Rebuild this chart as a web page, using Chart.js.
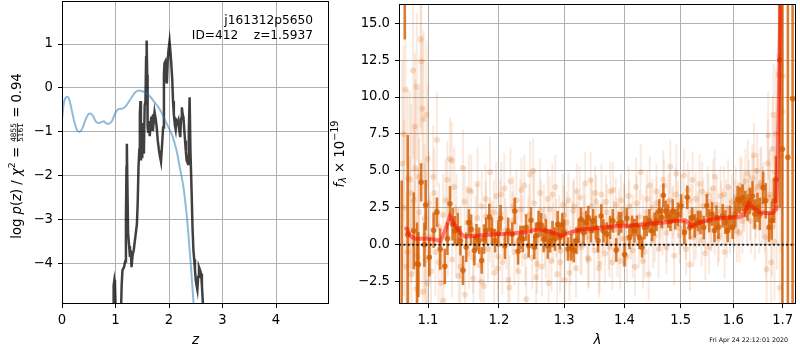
<!DOCTYPE html>
<html>
<head>
<meta charset="utf-8">
<script src="https://cdn.jsdelivr.net/npm/chart.js@4.4.0/dist/chart.umd.min.js"></script>
<style>
  body { margin: 0; background: #fff; }
  #wrap { position: relative; width: 800px; height: 350px; }
  canvas { position: absolute; top: 0; }
</style>
</head>
<body>
<div id="wrap">
  <canvas id="pz" width="334" height="350" style="left:0"></canvas>
  <canvas id="spec" width="480" height="350" style="left:320px"></canvas>
</div>
<script>
// ---- left panel: log p(z) ----
const pzZ = [0.93,0.955,0.965,0.978,0.99,1.002,1.02,1.06,1.10,1.115,1.13,1.16,1.18,1.195,1.205,1.212,1.22,1.235,1.255,1.27,
  1.285,1.30,1.32,1.34,1.36,1.38,1.40,1.415,1.43,1.445,1.455,1.466,1.475,1.49,1.50,1.515,1.53,1.545,1.56,1.572,
  1.582,1.592,1.60,1.61,1.625,1.64,1.655,1.67,1.685,1.70,1.715,1.73,1.75,1.77,1.79,1.81,1.83,1.85,1.87,1.89,
  1.905,1.915,1.93,1.945,1.96,1.975,1.99,2.01,2.025,2.04,2.06,2.075,2.09,2.11,2.125,2.14,2.16,2.175,2.19,2.21,
  2.225,2.24,2.255,2.27,2.285,2.30,2.315,2.33,2.355,2.37,2.385,2.40,2.42,2.44,2.456,2.47,2.485,2.50,2.515,2.53,
  2.545,2.56,2.58,2.60,2.615,2.63,2.65,2.68];
const logPz = [-6.0,-5.0,-4.5,-4.38,-4.5,-5.0,-5.6,-5.8,-5.2,-4.5,-4.15,-4.08,-3.95,-3.0,-1.8,-1.27,-2.0,-3.3,-3.6,-3.85,
  -3.7,-4.08,-3.8,-3.7,-3.5,-3.3,-3.1,-2.6,-1.8,-1.4,-0.6,-0.3,-1.65,-0.8,-1.6,-0.8,-1.5,-0.4,-0.3,0.7,
  1.08,0.3,-0.9,-1.0,-0.75,-1.1,-0.85,-0.65,-0.95,-0.6,-0.75,-0.55,-0.7,-0.9,-1.2,-1.4,-1.55,-1.68,-1.3,-0.9,
  0.3,0.56,0.6,0.2,0.1,0.6,0.85,1.06,0.85,0.6,0.2,-0.3,-0.6,-0.85,-0.95,-0.75,-0.8,-0.74,-0.95,-1.12,
  -0.7,-0.44,-0.6,-0.67,-0.95,-1.2,-1.45,-1.65,-1.73,-1.0,-0.21,-1.4,-2.26,-3.2,-3.7,-3.9,-4.15,-4.38,-4.5,-4.6,
  -4.3,-4.08,-4.15,-4.23,-4.5,-4.83,-5.4,-6.2];

const priorZ = [0.0,0.03,0.06,0.11,0.16,0.22,0.28,0.33,0.38,0.44,0.49,0.53,0.58,0.63,0.68,0.73,0.78,0.82,0.86,0.90,
  0.94,0.98,1.02,1.07,1.13,1.19,1.24,1.31,1.37,1.44,1.51,1.58,1.65,1.72,1.79,1.86,1.93,2.00,2.07,2.14,
  2.20,2.27,2.34,2.41,2.46,2.50];
const priorLogP = [-0.72,-0.38,-0.24,-0.2,-0.38,-0.72,-0.96,-1.0,-0.92,-0.72,-0.6,-0.58,-0.64,-0.76,-0.8,-0.78,-0.76,-0.8,-0.82,-0.8,
  -0.74,-0.62,-0.52,-0.48,-0.47,-0.42,-0.33,-0.2,-0.1,-0.06,-0.08,-0.12,-0.2,-0.31,-0.42,-0.56,-0.75,-0.92,-1.12,-1.42,
  -1.8,-2.26,-3.02,-4.08,-4.92,-5.6];

const pzXTicks = [0, 1, 2, 3, 4];
const pzYTicks = [-4, -3, -2, -1, 0, 1];
const pzRange = {xmin: 0, xmax: 4.99, ymin: -4.92, ymax: 1.98};

const objName = 'j161312p5650';
const objInfo = 'ID=412    z=1.5937';

// ---- right panel: spectrum ----
// individual exposures (faint)
const rawLam = [
  1.066,1.068,1.070,1.071,1.073,1.075,1.076,1.078,1.080,1.081,1.083,1.085,1.086,1.088,1.090,1.091,1.093,1.094,1.096,1.098,1.099,
  1.101,1.104,1.107,1.110,1.112,1.115,1.118,1.121,1.124,1.127,1.130,1.133,1.136,1.139,1.142,1.145,1.148,1.151,1.154,1.157,1.160,1.163,1.166,1.169,1.172,1.175,1.178,1.181,1.184,1.187,1.190,1.193,1.196,1.199,
  1.202,1.205,1.208,1.211,1.214,1.217,1.220,1.223,1.226,1.229,1.232,1.235,1.238,1.241,1.244,1.247,1.250,1.253,1.256,1.259,1.262,1.265,1.268,1.271,1.274,1.277,1.280,1.283,1.286,1.289,1.292,1.295,1.298,
  1.301,1.304,1.307,1.310,1.313,1.316,1.319,1.322,1.325,1.328,1.331,1.334,1.337,1.340,1.343,1.346,1.349,1.352,1.355,1.358,1.361,1.364,1.367,1.370,1.373,1.376,1.379,1.382,1.385,1.388,1.391,1.394,1.397,
  1.400,1.404,1.407,1.411,1.414,1.418,1.421,1.425,1.428,1.432,1.435,1.439,1.442,1.446,1.449,1.453,1.456,1.460,1.463,1.467,1.470,1.474,1.477,1.481,1.484,1.488,1.491,1.495,1.498,
  1.502,1.506,1.509,1.513,1.517,1.520,1.524,1.528,1.531,1.535,1.539,1.542,1.546,1.550,1.553,1.557,1.561,1.564,1.568,1.572,1.575,1.579,1.583,1.586,1.590,1.594,1.597,
  1.601,1.605,1.609,1.612,1.616,1.620,1.624,1.627,1.631,1.635,1.638,1.641,1.645,1.649,1.652,1.656,1.660,1.663,1.667,1.670,1.674,1.678,1.681,1.684,1.688,1.691,1.694,1.697,1.700,
  1.0675,1.0725,1.0775,1.0825,1.0875,1.0925,1.0955,1.0975,1.0995,1.0845,
  1.1025,1.1085,1.1145,1.1205,1.1265,1.1325,1.1385,1.1445,1.1505,1.1565,1.1625,1.1685,1.1745,1.1805,1.1865,1.1925,1.1985,
  1.2035,1.2095,1.2155,1.2215,1.2275,1.2335,1.2395,1.2455,1.2515,1.2575,1.2635,1.2695,1.2755,1.2815,1.2875,1.2935,1.2995,
  1.3025,1.3085,1.3145,1.3205,1.3265,1.3325,1.3385,1.3445,1.3505,1.3565,1.3625,1.3685,1.3745,1.3805,1.3865,1.3925,1.3985,
  1.4020,1.4080,1.4140,1.4200,1.4260,1.4320,1.4380,1.4440,1.4500,1.4560,1.4620,1.4680,1.4740,1.4800,1.4860,1.4920,1.4980,
  1.5040,1.5100,1.5160,1.5220,1.5280,1.5340,1.5400,1.5460,1.5520,1.5580,1.5640,1.5700,1.5760,1.5820,1.5880,1.5940,
  1.6030,1.6070,1.6140,1.6180,1.6220,1.6290,1.6330,1.6400,1.6430,1.6470,1.6540,1.6580,1.6650,1.6690,1.6720,1.6760,1.6790,1.6830,1.6860,1.6930,1.6990];
const rawFlux = [
  5.5,2.5,10.5,-1.5,4.5,1.0,4.4,-2.0,11.8,3.0,5.2,10.7,-0.8,2.2,13.9,12.4,-3.2,8.5,0.6,8.8,-2.6,
  2.8,-1.8,4.6,-0.5,7.1,1.2,-2.6,-3.8,3.0,0.5,5.8,-1.0,3.9,2.3,-2.1,0.2,5.2,-3.4,1.5,-0.6,3.6,-2.3,0.9,4.1,-1.4,2.6,-2.8,1.9,-0.3,4.9,0.7,-1.9,3.3,-0.8,
  2.1,-1.2,3.8,0.4,-2.4,4.3,1.6,-0.5,3.0,-1.8,2.4,0.9,4.0,-3.7,1.2,4.75,-0.9,2.8,-2.2,0.3,3.5,-1.5,1.9,-0.2,3.1,2.4,-1.1,0.8,3.9,-2.0,1.4,-0.4,2.7,
  -2.4,1.5,3.0,-0.7,0.8,2.6,-1.6,1.1,3.2,-0.2,2.0,4.15,0.5,-1.0,4.37,1.7,-0.4,2.9,0.9,-1.3,3.4,1.3,-0.6,2.2,0.1,3.6,-1.2,1.0,2.7,-0.3,1.8,3.0,0.4,
  2.1,-0.8,3.3,0.9,1.6,-1.5,2.8,0.2,4.9,1.4,-0.5,3.1,-2.0,1.8,2.5,0.6,3.6,-0.3,2.2,1.2,4.0,0.8,2.9,5.27,1.9,-0.76,3.4,2.4,1.1,
  2.8,4.7,1.0,3.7,-1.34,2.2,0.5,3.1,1.7,4.1,0.3,2.6,1.4,3.4,-0.2,2.0,3.8,1.1,2.7,0.6,3.3,1.9,-0.5,2.4,3.9,1.2,2.9,
  1.5,3.2,2.4,0.8,3.8,2.9,4.3,2.1,3.6,1.6,4.5,6.05,2.8,3.9,1.9,4.2,3.0,2.2,-1.67,7.4,3.4,1.2,8.8,4.9,2.5,11.5,-2.9,6.0,11.4,
  7.5,-0.5,3.5,8.0,4.6,9.2,1.8,-1.0,5.8,-3.0,
  0.5,3.5,-1.2,2.0,4.4,5.7,0.2,-1.5,2.9,3.7,-0.9,1.8,-2.5,3.1,1.0,2.2,-1.6,
  3.4,1.0,-2.9,2.6,0.2,3.7,-0.8,2.0,5.0,-1.3,2.3,0.6,-2.6,3.4,1.1,-1.2,2.0,
  0.9,-1.9,2.3,3.6,0.0,1.6,-0.9,2.6,3.5,-1.6,1.0,2.9,-0.2,3.7,1.4,-1.1,2.4,
  0.4,2.6,-0.4,3.9,1.9,-1.1,2.2,4.0,0.3,2.8,1.5,4.4,-0.2,3.0,2.2,4.8,0.6,
  1.6,-0.3,3.0,4.4,0.8,2.0,3.6,-0.6,2.9,1.5,4.6,0.4,2.3,3.4,0.9,2.1,
  2.4,0.9,4.0,1.6,3.0,4.8,2.5,3.7,1.2,5.0,4.0,2.7,0.5,5.5,3.2,-1.2,6.5,0.2,7.5,12.8,9.0];
const rawErr = [
  7,6,5,5,6,5,6,5,6,5,6,5,6,5,6,5,5,6,5,5,5,
  3.5,3,3.5,3,3.2,3,2.8,3,2.8,2.6,2.8,2.6,2.7,2.5,2.6,2.5,2.6,2.4,2.5,2.4,2.5,2.4,2.4,2.5,2.3,2.4,2.3,2.4,2.3,2.4,2.3,2.2,2.3,2.2,
  2.3,2.2,2.4,2.1,2.3,2.2,2.0,2.3,2.1,2.2,2.0,2.4,2.1,2.2,2.0,2.3,2.1,2.2,2.0,2.1,2.3,2.0,2.2,2.1,2.0,2.2,2.1,2.0,2.2,2.1,2.0,2.2,2.1,
  2.0,2.1,1.9,2.0,2.1,1.9,2.0,1.8,2.1,1.9,2.0,2.1,1.8,2.0,1.9,2.0,2.1,1.8,1.9,2.0,2.1,1.8,2.0,1.9,1.8,2.0,1.9,2.0,1.8,1.9,2.0,1.8,1.9,
  1.9,1.8,2.0,1.9,1.8,2.0,1.9,1.8,1.9,2.0,1.8,1.9,1.8,2.0,1.9,1.8,1.9,2.0,1.8,1.9,1.8,2.0,1.9,1.8,1.9,2.0,1.8,1.9,1.8,
  1.9,1.8,2.0,1.9,1.8,1.9,2.0,1.8,1.9,2.0,1.8,1.9,2.0,1.9,1.8,1.9,2.0,1.8,1.9,1.8,2.0,1.9,1.8,2.0,1.9,1.8,1.9,
  2.0,2.1,1.9,2.0,2.1,2.0,2.2,2.0,2.1,2.2,2.3,2.2,2.4,2.3,2.5,2.4,2.6,2.7,2.8,3.0,3.0,3.3,3.5,3.8,4.2,4.8,5.5,6.5,7.0,
  6,5,6,5,6,5,5,6,5,5,
  3,3,2.8,2.8,2.6,2.6,2.5,2.5,2.4,2.4,2.4,2.3,2.3,2.3,2.2,2.2,2.2,
  2.2,2.1,2.2,2.0,2.1,2.2,2.0,2.1,2.2,2.0,2.1,2.0,2.2,2.1,2.0,2.1,2.0,
  2.0,1.9,2.0,1.9,2.0,1.8,2.0,1.9,1.8,2.0,1.9,1.8,2.0,1.9,1.8,1.9,1.8,
  1.9,1.8,1.9,2.0,1.8,1.9,1.8,2.0,1.9,1.8,1.9,2.0,1.8,1.9,1.8,2.0,1.9,
  1.9,1.8,2.0,1.9,1.8,1.9,2.0,1.8,1.9,2.0,1.8,1.9,2.0,1.9,1.8,1.9,
  2.0,2.1,2.0,2.2,2.1,2.3,2.2,2.4,2.3,2.5,2.6,2.6,2.8,3.0,3.2,3.4,3.6,4.0,4.5,6.0,7.0];

// combined spectrum (dark)
const binLam = [
  1.0650,1.0690,1.0729,1.0809,1.0853,1.0870,1.0907,1.0951,1.0969,1.1018,1.1076,1.1120,1.1166,1.1229,1.1265,1.1301,1.1337,1.1368,1.1409,1.1446,
  1.1482,1.1528,1.1565,1.1597,1.1643,1.1675,1.1712,1.1749,1.1782,1.1814,1.1860,1.1897,1.1944,1.1991,
  1.2024,1.2088,1.2137,1.2197,1.2236,1.2286,1.2321,1.2356,1.2406,1.2447,1.2482,1.2532,1.2558,1.2599,1.2639,1.2676,1.2712,1.2743,1.2779,1.2815,
  1.2856,1.2897,1.2933,1.2970,1.3000,1.3063,1.3114,1.3156,1.3198,1.3234,1.3271,1.3313,1.3356,1.3392,1.3435,1.3471,1.3515,1.3552,1.3605,1.3642,
  1.3699,1.3755,1.3800,1.3858,1.3903,1.3943,1.4000,1.4040,1.4086,1.4132,1.4172,1.4213,1.4259,1.4305,1.4347,1.4387,1.4434,1.4480,1.4527,1.4562,
  1.4609,1.4656,1.4684,1.4725,1.4772,1.4813,1.4854,1.4901,1.4948,1.5007,1.5067,1.5121,1.5169,1.5211,1.5259,1.5320,1.5368,1.5429,
  1.5489,1.5534,1.5589,1.5634,1.5673,1.5712,1.5793,1.5845,1.5890,1.5935,1.5987,1.6039,1.6085,1.6130,1.6183,1.6236,1.6282,1.6328,1.6381,1.6428,
  1.6482,1.6529,1.6596,1.6650,1.6718,1.6773,1.6821,1.6856,1.6939,1.6994,1.7108,1.7208];
const binFlux = [
  -5.5,28,0.69,0.94,-1.3,-1.35,4.22,0.0,2.68,-0.85,0.98,2.2,-0.3,-1.47,0.4,2.77,1.38,0.94,1.05,0.27,
  -1.74,-0.18,1.5,1.05,-0.4,0.5,0.27,-1.07,0.38,0.94,1.88,0.94,0.27,0.76,
  1.79,-0.07,0.94,0.71,2.28,-0.45,0.49,0.38,1.16,-0.07,1.65,-0.18,0.6,1.38,1.34,0.38,0.94,-0.07,0.27,0.71,
  0.38,1.38,0.49,1.34,0.83,-0.29,-0.18,-0.40,0.27,0.94,1.72,0.83,1.5,1.83,0.94,1.61,1.16,0.27,1.94,0.94,
  0.71,1.16,1.61,-0.36,1.43,1.5,-0.67,1.79,0.49,1.27,0.94,1.27,0.49,-0.18,1.16,1.27,1.61,0.94,1.38,1.61,
  2.28,1.83,3.35,2.28,1.94,1.61,2.28,1.72,2.05,2.61,0.83,3.21,1.16,1.83,1.27,1.61,1.5,1.16,
  2.63,1.63,2.08,0.96,1.85,1.18,1.96,1.52,0.96,1.85,1.18,2.08,3.08,2.97,3.19,2.75,2.52,2.97,3.3,2.08,
  2.52,2.08,3.86,2.97,1.18,1.63,2.97,4.42,12.52,6.47,5.92,9.89];
const binErr = [
  9.85,14.1,6.74,2.6,2.8,2.2,1.3,1.5,1.7,1.3,1.2,1.0,1.4,1.2,1.1,1.2,1.1,1.0,1.1,1.0,
  1.0,1.0,0.9,1.0,1.0,0.9,0.9,0.9,1.0,0.9,0.9,0.9,0.8,0.9,
  0.9,0.9,0.9,0.8,0.9,0.9,0.8,0.9,0.9,0.8,0.9,0.8,0.9,0.9,0.8,0.9,0.8,0.9,0.8,0.9,
  0.8,0.9,0.8,0.8,0.9,0.8,0.9,0.8,0.9,0.8,0.8,0.9,0.8,0.8,0.8,0.8,0.8,0.8,0.8,0.8,
  0.8,0.8,0.8,0.8,0.8,0.7,0.8,0.7,0.8,0.7,0.8,0.7,0.8,0.7,0.8,0.7,0.8,0.7,0.8,0.7,
  0.8,0.7,0.8,0.7,0.8,0.7,0.8,0.7,0.8,0.8,0.8,0.8,0.8,0.7,0.8,0.7,0.8,0.8,
  0.8,0.8,0.8,0.8,0.8,0.8,0.8,0.8,0.8,0.8,0.8,0.9,0.9,0.9,0.9,0.9,0.9,0.9,1.0,1.0,
  1.0,1.1,1.1,1.2,1.0,1.3,1.5,1.6,10,15,15,18];

// best-fit model
const modelLam = [1.0700,1.0760,1.0820,1.0900,1.1000,1.1080,1.1130,1.1170,1.1220,1.1270,1.1300,1.1320,1.1350,1.1400,1.1450,1.1500,1.1550,1.1650,1.1800,1.2000,
  1.2200,1.2400,1.2500,1.2590,1.2700,1.2800,1.2900,1.2960,1.3050,1.3150,1.3300,1.3500,1.3800,1.4100,1.4400,1.4700,1.4900,1.5090,1.5150,1.5180,
  1.5250,1.5400,1.5600,1.5800,1.6000,1.6100,1.6180,1.6250,1.6310,1.6400,1.6520,1.6650,1.6800,1.6860,1.6890,1.6920,1.6950,1.6980];
const modelFlux = [1.2,0.6,0.4,0.4,0.4,0.35,0.3,0.25,0.8,1.5,1.95,1.8,1.45,1.1,0.75,0.55,0.55,0.6,0.65,0.7,
  0.75,0.85,0.95,1.05,0.95,0.85,0.7,0.6,0.75,0.9,1.05,1.1,1.25,1.3,1.4,1.5,1.6,1.65,1.45,1.25,
  1.35,1.55,1.75,1.8,1.85,1.85,1.95,2.4,2.8,2.5,2.2,2.15,2.15,2.4,5.0,10.0,16.0,22.0];
const zeroLevel = 0;

const specXTicks = [1.1, 1.2, 1.3, 1.4, 1.5, 1.6, 1.7];
const specYTicks = [-2.5, 0, 2.5, 5, 7.5, 10, 12.5, 15];
const specRange = {xmin: 1.0615, xmax: 1.728, ymin: -4.02, ymax: 16.3};

const stamp = 'Fri Apr 24 22:12:01 2020';

// ---- shared bits ----
const FONT = 'DejaVu Sans';
Chart.defaults.font.family = FONT;
Chart.defaults.font.size = 13.2;
Chart.defaults.color = '#000';
const GRID = '#b0b0b0';
const ORANGE = 'rgba(213,94,0,0.8)';
const ORANGE_FAINT = 'rgba(213,94,0,0.13)';
const ORANGE_FAINT_PT = 'rgba(213,94,0,0.2)';
const SPEC_LEFT = 320;   // page x of the right canvas

const minus = s => s.replace('-', '\u2212');

function axis(ticks, fmt, size, extra) {
  return Object.assign({
    type: 'linear',
    bounds: 'data',
    grid: {color: GRID, lineWidth: 1, tickColor: '#000', tickLength: 4},
    border: {display: false},
    ticks: {autoSkip: false, maxRotation: 0, padding: 5, callback: v => fmt(v)},
    afterBuildTicks: s => { s.ticks = ticks.map(v => ({value: v})); },
  }, extra, {
    // fixed axis size, and no extra room for overhanging end labels
    afterFit: s => {
      if (s.isHorizontal()) s.height = size; else s.width = size;
      s.paddingTop = s.paddingBottom = s.paddingLeft = s.paddingRight = 0;
    }
  });
}

const frame = {
  id: 'frame',
  afterDraw(chart) {
    const {ctx, chartArea: a} = chart;
    ctx.save();
    ctx.strokeStyle = '#000';
    ctx.lineWidth = 1;
    ctx.strokeRect(a.left + 0.5, a.top + 0.5, a.right - a.left - 1, a.bottom - a.top - 1);
    ctx.restore();
  }
};

// draws mixed-size text runs rotated by -90deg, baseline at x, centred on y
function vertText(ctx, runs, x, y) {
  ctx.save();
  ctx.translate(x, y);
  ctx.rotate(-Math.PI / 2);
  ctx.fillStyle = '#000';
  ctx.textBaseline = 'alphabetic';
  const w = runs.map(r => {
    ctx.font = r.font;
    return r.den ? Math.max(ctx.measureText(r.text).width, ctx.measureText(r.den).width) + 2 : ctx.measureText(r.text).width;
  });
  let cx = -w.reduce((a, b) => a + b, 0) / 2;
  runs.forEach((r, i) => {
    ctx.font = r.font;
    if (r.den) {
      ctx.textAlign = 'center';
      ctx.fillText(r.text, cx + w[i] / 2, -4.3);
      ctx.fillText(r.den, cx + w[i] / 2, 2.7);
      ctx.fillRect(cx + 1, -3.6, w[i] - 2, 0.8);
      ctx.textAlign = 'left';
    } else {
      ctx.fillText(r.text, cx, r.dy || 0);
    }
    cx += w[i];
  });
  ctx.restore();
}

const pzText = {
  id: 'pzText',
  afterDraw(chart) {
    const ctx = chart.ctx;
    ctx.save();
    ctx.font = '12.2px "' + FONT + '"';
    ctx.fillStyle = '#000';
    ctx.textAlign = 'right';
    ctx.fillText(objName, 313, 24);
    ctx.fillText(objInfo, 313, 39);
    ctx.restore();
    const up = '13.2px "' + FONT + '"', it = 'italic 13.2px "' + FONT + '"';
    vertText(ctx, [
      {text: 'log ', font: up}, {text: 'p', font: it}, {text: '(', font: up}, {text: 'z', font: it},
      {text: ') / ', font: up}, {text: '\u03c7', font: it}, {text: '2', font: '9.4px "' + FONT + '"', dy: -5.5},
      {text: ' = ', font: up}, {text: '4855', den: '5161', font: '7.4px "' + FONT + '"'},
      {text: ' = 0.94', font: up}
    ], 20.5, 156);
  }
};

const specText = {
  id: 'specText',
  afterDraw(chart) {
    const ctx = chart.ctx;
    const up = '13.2px "' + FONT + '"', small = '9.6px "' + FONT + '"';
    vertText(ctx, [
      {text: 'f', font: 'italic 13.2px "' + FONT + '"'},
      {text: '\u03bb', font: 'italic ' + small, dy: 2.6},
      {text: ' \u00d7 10', font: up},
      {text: '\u221219', font: small, dy: -5.8}
    ], 343.5 - SPEC_LEFT, 154);
    ctx.save();
    ctx.font = '6.3px "' + FONT + '"';
    ctx.fillStyle = '#000';
    ctx.textAlign = 'right';
    ctx.fillText(stamp, 788 - SPEC_LEFT, 342);
    ctx.restore();
  }
};

// ---- left chart ----
new Chart(document.getElementById('pz'), {
  type: 'line',
  data: {
    datasets: [
      {
        data: priorZ.map((z, i) => ({x: z, y: priorLogP[i]})),
        borderColor: 'rgba(31,119,180,0.5)', borderWidth: 2,
        pointRadius: 0, cubicInterpolationMode: 'monotone', clip: 0
      },
      {
        data: pzZ.map((z, i) => ({x: z, y: logPz[i]})),
        borderColor: 'rgba(0,0,0,0.75)', borderWidth: 2.5,
        pointRadius: 0, tension: 0, clip: 0
      }
    ]
  },
  options: {
    responsive: false, animation: false, devicePixelRatio: 1,
    layout: {padding: {top: 1, right: 5, left: 0, bottom: 0}},
    plugins: {legend: {display: false}, tooltip: {enabled: false}},
    scales: {
      x: axis(pzXTicks, v => String(v), 46, {
        min: pzRange.xmin, max: pzRange.xmax,
        title: {display: true, text: 'z', font: {style: 'italic', size: 13.5}, padding: {top: 0, bottom: 1}}
      }),
      y: axis(pzYTicks, v => minus(String(v)), 62, {min: pzRange.ymin, max: pzRange.ymax})
    }
  },
  plugins: [frame, pzText]
});

// ---- right chart ----
const pts = (lam, flux) => lam.map((l, i) => ({x: l, y: flux[i]}));
// vertical error bars: one short line per point, broken by a null
const errLines = (lam, flux, err) => lam.flatMap((l, i) => [
  {x: l, y: flux[i] - err[i]}, {x: l, y: flux[i] + err[i]}, {x: l, y: null}
]);
const errStyle = (color, width) => ({
  type: 'line', borderColor: color, borderWidth: width, borderCapStyle: 'butt',
  pointRadius: 0, spanGaps: false, clip: 0,
  segment: {borderColor: () => undefined}   // stroke each bar on its own so alpha adds up
});

new Chart(document.getElementById('spec'), {
  type: 'scatter',
  data: {
    datasets: [
      {
        type: 'line', data: [{x: specRange.xmin, y: zeroLevel}, {x: specRange.xmax, y: zeroLevel}],
        borderColor: 'rgba(0,0,0,0.85)', borderWidth: 2, borderDash: [2, 2.4], pointRadius: 0, clip: 0
      },
      {
        type: 'line', data: pts(modelLam, modelFlux),
        borderColor: 'rgba(255,0,0,0.5)', borderWidth: 4, pointRadius: 0, tension: 0, clip: 0
      },
      {
        data: pts(binLam, binFlux), backgroundColor: ORANGE, borderWidth: 0, pointRadius: 2.8, clip: 0
      },
      Object.assign({data: errLines(binLam, binFlux, binErr)}, errStyle(ORANGE, 2.6)),
      {
        data: pts(rawLam, rawFlux), backgroundColor: ORANGE_FAINT_PT, borderWidth: 0, pointRadius: 3, clip: 0
      },
      Object.assign({data: errLines(rawLam, rawFlux, rawErr)}, errStyle(ORANGE_FAINT, 2))
    ]
  },
  options: {
    responsive: false, animation: false, devicePixelRatio: 1,
    layout: {padding: {top: 1, right: 1, left: 0, bottom: 0}},
    plugins: {legend: {display: false}, tooltip: {enabled: false}},
    scales: {
      x: axis(specXTicks, v => v.toFixed(1), 46, {
        type: 'logarithmic', min: specRange.xmin, max: specRange.xmax,
        title: {display: true, text: '\u03bb', font: {style: 'italic', size: 13.5}, padding: {top: 0, bottom: 1}}
      }),
      y: axis(specYTicks, v => minus(v.toFixed(1)), 399 - SPEC_LEFT, {min: specRange.ymin, max: specRange.ymax})
    }
  },
  plugins: [frame, specText]
});
</script>
</body>
</html>
